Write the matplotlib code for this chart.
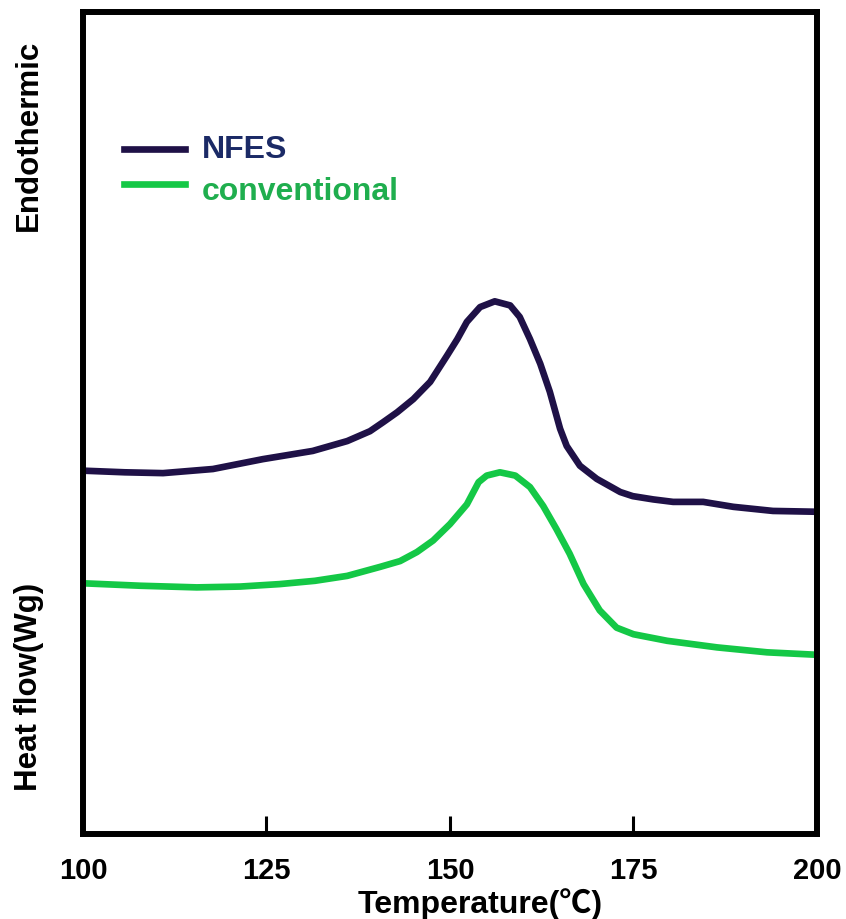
import matplotlib
matplotlib.use("Agg")
import matplotlib.pyplot as plt
from matplotlib.lines import Line2D

plt.rcParams['font.family'] = ['Liberation Sans', 'Noto Sans CJK SC', 'DejaVu Sans']

# DSC heat-flow traces (arbitrary units, endothermic up)
temp_nfes = [100.0, 105.7, 110.9, 117.7, 124.5, 131.3, 136.0, 139.1, 140.9, 142.8,
             145.0, 147.3, 149.6, 151.0, 152.3, 154.1, 156.1, 158.2, 159.5, 160.9,
             162.3, 163.6, 165.0, 165.9, 167.7, 170.0, 173.2, 174.9, 177.7, 180.4,
             184.5, 188.6, 194.0, 200.0]
flow_nfes = [44.2, 44.0, 43.9, 44.4, 45.6, 46.6, 47.8, 49.0, 50.1, 51.3,
             52.9, 55.0, 58.2, 60.2, 62.3, 64.1, 64.8, 64.3, 62.9, 60.2,
             57.2, 53.8, 49.3, 47.2, 44.8, 43.2, 41.6, 41.1, 40.7, 40.4,
             40.4, 39.8, 39.3, 39.2]

temp_conv = [100.0, 107.8, 115.5, 121.4, 126.8, 131.6, 136.0, 140.5, 143.2, 145.5,
             147.7, 150.0, 152.3, 153.9, 155.0, 156.8, 158.9, 160.9, 162.7, 164.5,
             166.3, 168.2, 170.4, 172.7, 175.0, 179.6, 186.4, 193.2, 200.0]
flow_conv = [30.5, 30.2, 30.0, 30.1, 30.4, 30.8, 31.4, 32.5, 33.2, 34.3,
             35.7, 37.7, 40.1, 42.8, 43.6, 44.0, 43.6, 42.2, 39.9, 37.1,
             34.1, 30.4, 27.2, 25.1, 24.3, 23.5, 22.7, 22.1, 21.8]

x_ticks = [100, 125, 150, 175, 200]
series_names = ["NFES", "conventional"]

line_colors = ["#1f1147", "#14c846"]
text_colors = ["#1b2a66", "#1fae4e"]

fig = plt.figure(figsize=(8.46, 9.2), dpi=100)
ax = fig.add_axes([0.0981, 0.0924, 0.8676, 0.8935])

for t, f, c in [(temp_nfes, flow_nfes, line_colors[0]),
                (temp_conv, flow_conv, line_colors[1])]:
    ax.plot(t, f, color=c, lw=4.8, solid_joinstyle='round', solid_capstyle='butt')

ax.set_xlim(100, 200)
ax.set_ylim(0, 100)
ax.set_xticks(x_ticks)
ax.set_xticklabels([str(t) for t in x_ticks], fontsize=21, fontweight='bold')
ax.set_yticks([])
ax.tick_params(axis='x', direction='in', length=13, width=2.2, pad=16)

for sp in ax.spines.values():
    sp.set_linewidth(4.3)
    sp.set_color('black')

ax.set_xlabel("Temperature(℃)", fontsize=23, fontweight='bold', labelpad=2)
ax.xaxis.label.set_x(0.541)

# Rotated side labels
fig.text(0.034, 0.853, "Endothermic", rotation=90, fontsize=22.5,
         fontweight='bold', ha='center', va='center')
fig.text(0.034, 0.253, "Heat flow(Wg)", rotation=90, fontsize=22.5,
         fontweight='bold', ha='center', va='center')

# Legend drawn as short line segments with colored labels
line_y = [0.8370, 0.7989]
text_y = [0.8283, 0.7826]
for name, lc, tc, ly, ty in zip(series_names, line_colors, text_colors, line_y, text_y):
    fig.add_artist(Line2D([0.146, 0.219], [ly, ly], color=lc, lw=4.8,
                          transform=fig.transFigure))
    fig.text(0.2388, ty, name, color=tc, fontsize=23, fontweight='bold',
             ha='left', va='baseline')

fig.savefig("out.png", dpi=100)
